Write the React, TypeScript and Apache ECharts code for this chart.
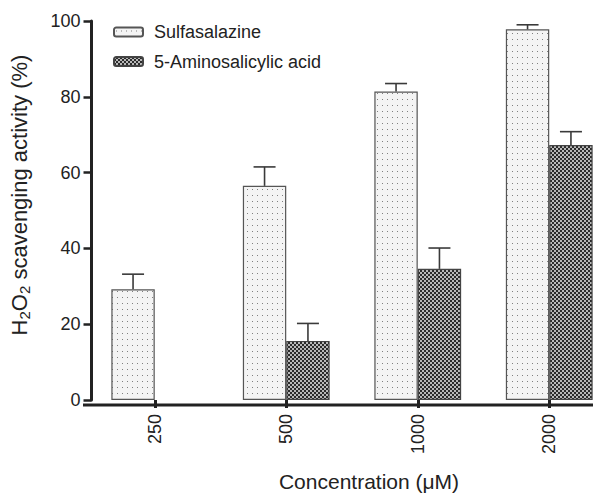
import React, { useEffect, useRef } from "react";
import * as echarts from "echarts";

const categories = ["250", "500", "1000", "2000"];
const sulfasalazine = [29.2, 56.5, 81.4, 97.8];
const sulfasalazineErr = [4.0, 5.0, 2.1, 1.2];
const aminosalicylic: (number | null)[] = [null, 15.6, 34.6, 67.3];
const aminosalicylicErr: (number | null)[] = [null, 4.6, 5.5, 3.5];
const yMin = 0;
const yMax = 100;
const yInterval = 20;

const FONT = "'Liberation Sans', Arial, Helvetica, sans-serif";
const INK = "#222";

function dotPattern(): HTMLCanvasElement {
  const c = document.createElement("canvas");
  c.width = 5;
  c.height = 6;
  const g = c.getContext("2d")!;
  g.fillStyle = "#f4f4f4";
  g.fillRect(0, 0, 5, 6);
  g.fillStyle = "#808080";
  g.fillRect(2, 3, 1, 1);
  return c;
}

function checkPattern(): HTMLCanvasElement {
  const c = document.createElement("canvas");
  c.width = 4;
  c.height = 4;
  const g = c.getContext("2d")!;
  g.fillStyle = "#2b2b2b";
  g.fillRect(0, 0, 4, 4);
  g.fillStyle = "#b8b8b8";
  g.fillRect(0, 0, 2, 2);
  g.fillRect(2, 2, 2, 2);
  return c;
}

function errData(means: (number | null)[], errs: (number | null)[]) {
  const out: number[][] = [];
  means.forEach((m, i) => {
    const e = errs[i];
    if (m != null && e != null) out.push([i, m, m + e]);
  });
  return out;
}

function errorSeries(name: string, data: number[][], offsetFactor: number) {
  return {
    type: "custom",
    name,
    data,
    encode: { x: 0, y: [1, 2] },
    z: 3,
    renderItem: (params: any, api: any) => {
      const i = api.value(0);
      const base = api.coord([i, api.value(1)]);
      const top = api.coord([i, api.value(2)]);
      const bw = api.size([1, 0])[0];
      const x = base[0] + offsetFactor * bw;
      const half = 11;
      const style = { stroke: "#3a3a3a", lineWidth: 1.6 };
      return {
        type: "group",
        children: [
          { type: "line", shape: { x1: x, y1: base[1], x2: x, y2: top[1] }, style },
          { type: "line", shape: { x1: x - half, y1: top[1], x2: x + half, y2: top[1] }, style },
        ],
      };
    },
  };
}

export default function App() {
  const ref = useRef<HTMLDivElement>(null);

  useEffect(() => {
    if (!ref.current) return;
    const chart = echarts.init(ref.current, null, { renderer: "svg" });
    const dots = { image: dotPattern(), repeat: "repeat" };
    const checks = { image: checkPattern(), repeat: "repeat" };
    const catGap = 0.34;
    const off = (1 - catGap) / 4;

    chart.setOption({
      animation: false,
      backgroundColor: "#ffffff",
      textStyle: { fontFamily: FONT },
      grid: { left: 88.5, right: 1, top: 21, bottom: 92, containLabel: false },
      legend: {
        data: ["Sulfasalazine", "5-Aminosalicylic acid"],
        orient: "vertical",
        left: 108,
        top: 18,
        itemWidth: 29,
        itemHeight: 9,
        itemGap: 11.5,
        textStyle: { fontSize: 18, color: INK, fontFamily: FONT, padding: [0, 0, 0, 6] },
      },
      xAxis: {
        type: "category",
        data: categories,
        boundaryGap: true,
        axisLine: { show: false },
        axisTick: { show: true, alignWithLabel: true, length: 8, lineStyle: { color: INK, width: 3 } },
        axisLabel: { rotate: 90, fontSize: 18, color: INK, margin: 14, fontFamily: FONT },
        splitLine: { show: false },
        name: "Concentration (\u03bcM)",
        nameLocation: "middle",
        nameGap: 71,
        nameTextStyle: { fontSize: 21, color: INK, fontFamily: FONT, padding: [0, 0, 0, 34] },
      },
      yAxis: {
        type: "value",
        min: yMin,
        max: yMax,
        interval: yInterval,
        offset: -2.5,
        axisLine: { show: true, lineStyle: { color: INK, width: 3 } },
        axisTick: { show: true, length: 8, lineStyle: { color: INK, width: 2.5 } },
        axisLabel: { fontSize: 18, color: INK, margin: 11, fontFamily: FONT },
        splitLine: { show: false },
        name: "H{sub|2}O{sub|2} scavenging activity (%)",
        nameLocation: "middle",
        nameGap: 60,
        nameTextStyle: {
          fontSize: 22,
          color: INK,
          fontFamily: FONT,
          padding: [0, 0, 0, 31],
          rich: {
            sub: { fontSize: 15, verticalAlign: "bottom", padding: [10, 0, 0, 0], color: INK, fontFamily: FONT },
          },
        },
      },
      graphic: [
        {
          type: "line",
          shape: { x1: 83, y1: 405, x2: 593, y2: 405 },
          style: { stroke: INK, lineWidth: 3 },
          z: 10,
        },
      ],
      series: [
        {
          name: "Sulfasalazine",
          type: "bar",
          data: sulfasalazine,
          barGap: "0%",
          barCategoryGap: "34%",
          itemStyle: { color: dots, borderColor: "#555", borderWidth: 1.2 },
        },
        {
          name: "5-Aminosalicylic acid",
          type: "bar",
          data: aminosalicylic,
          barGap: "0%",
          barCategoryGap: "34%",
          itemStyle: { color: checks, borderColor: "#444", borderWidth: 1.2 },
        },
        errorSeries("Sulfasalazine error", errData(sulfasalazine, sulfasalazineErr), -off),
        errorSeries("5-Aminosalicylic acid error", errData(aminosalicylic, aminosalicylicErr), off),
      ],
    });

    return () => chart.dispose();
  }, []);

  return (
    <div
      ref={ref}
      style={{ position: "fixed", left: 0, top: 0, width: 616, height: 497 }}
    />
  );
}
